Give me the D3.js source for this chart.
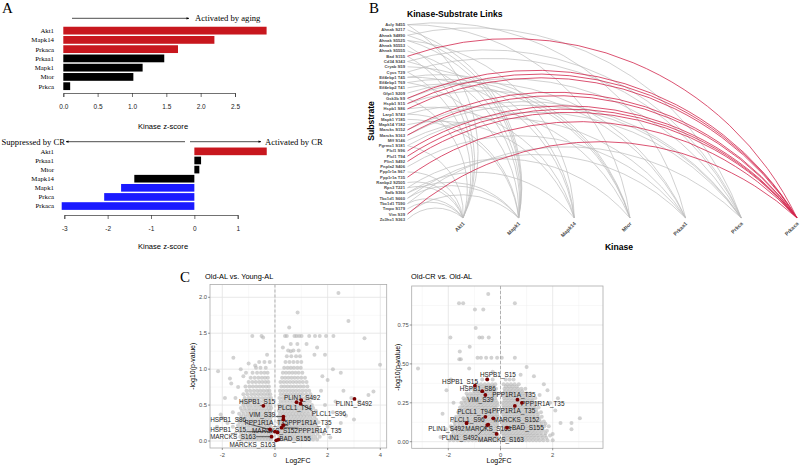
<!DOCTYPE html>
<html><head><meta charset="utf-8">
<script src="https://cdn.jsdelivr.net/npm/d3@7"></script>
<style>body{margin:0;background:#fff}svg{display:block}</style>
</head><body>
<svg id="c" width="800" height="465"></svg>
<script>
// ---------------- DATA ----------------
// Panel A (top): Old-AL vs Young-AL kinase z-scores
const agingKinases = ["Akt1","Mapk14","Prkaca","Prkaa1","Mapk1","Mtor","Prkca"];
const agingZ = [2.96,2.20,1.67,1.47,1.155,1.02,0.10];
const agingState = ["up","up","up","ns","ns","ns","ns"];
const agingTicks = [0,0.5,1,1.5,2,2.5];
// Panel A (bottom): Old-CR vs Old-AL kinase z-scores
const crKinases = ["Akt1","Prkaa1","Mtor","Mapk14","Mapk1","Prkca","Prkaca"];
const crZ = [1.67,0.155,0.115,-1.385,-1.69,-2.08,-3.06];
const crState = ["up","ns","ns","ns","down","down","down"];
const crTicks = [-3,-2,-1,0,1];

// Panel B: kinase-substrate links
const kinases = ["Akt1","Mapk1","Mapk14","Mtor","Prkaa1","Prkca","Prkaca"];
const substrates = ["Acly S455","Ahnak S217","Ahnak S4890","Ahnak S5525","Ahnak S5553","Ahnak S5555","Bad S155","Cd34 S343","Cryab S59","Cycs T29","Eif4ebp1 T45","Eif4ebp1 T69","Eif4ebp2 T41","Gfpt1 S209","Gsk3b S9","Hspb1 S15","Hspb1 S86","Larp1 S743","Mapk1 Y185","Mapk14 Y182","Marcks S152","Marcks S163","Mff S146","Pgrmc1 S181","Plcl1 S96","Plcl1 T94","Plin1 S492","Pnpla2 S406","Ppp1r1a S67","Ppp1r1a T35","Ranbp2 S2505","Rps3 T221","Safb S366","Tbc1d1 S660","Tbc1d1 T590","Tmpo S179","Vim S39","Zc3hc1 S363"];
const linksAkt1 = ["Acly S455","Ahnak S5553","Bad S155","Cycs T29","Gsk3b S9","Pgrmc1 S181","Ppp1r1a S67","Ranbp2 S2505","Rps3 T221","Tbc1d1 T590","Zc3hc1 S363","Tmpo S179"];
const linksMapk1 = ["Ahnak S217","Ahnak S4890","Ahnak S5525","Ahnak S5555","Cd34 S343","Eif4ebp1 T69","Larp1 S743","Mapk1 Y185","Safb S366","Tbc1d1 S660","Vim S39"];
const linksMapk14 = ["Cryab S59","Hspb1 S86","Mapk14 Y182","Eif4ebp1 T45","Ahnak S5525","Safb S366"];
const linksMtor = ["Eif4ebp1 T45","Eif4ebp1 T69","Eif4ebp2 T41","Larp1 S743","Acly S455","Rps3 T221"];
const linksPrkaa1 = ["Acly S455","Gfpt1 S209","Mff S146","Tbc1d1 S660","Pnpla2 S406","Hspb1 S15"];
const linksPrkca = ["Marcks S152","Marcks S163","Cd34 S343","Pgrmc1 S181","Cycs T29","Ahnak S4890","Tbc1d1 T590","Gsk3b S9"];
const linksPrkaca = ["Bad S155","Gsk3b S9","Hspb1 S15","Hspb1 S86","Marcks S152","Marcks S163","Plcl1 S96","Plcl1 T94","Plin1 S492","Ppp1r1a T35","Vim S39"];

// Panel C left: Old-AL vs Young-AL volcano (Log2FC, -log10 p)
const volcLScatter = [[2.41,2.06],[0.86,1.79],[2.79,1.67],[0.54,1.58],[-0.86,1.46],[-0.51,1.46],[-0.45,1.44],[0.38,1.46],[0.45,1.46],[0.74,1.46],[0.82,1.46],[0.92,1.46],[1.01,1.46],[1.30,1.46],[1.52,1.46],[1.70,1.46],[1.94,1.46],[2.22,1.46],[3.40,1.43],[3.99,1.06],[-1.58,1.16],[-2.16,0.97],[-1.71,0.87],[-1.66,0.80],[-2.06,0.37],[-2.0,0.32],[3.74,0.69],[3.55,0.64],[-1.3,1.0],[-1.0,1.08],[-0.75,1.05],[-0.3,1.2],[-1.2,0.9],[1.9,1.2],[2.2,1.0],[2.5,0.95],[2.0,0.85],[1.8,0.9],[2.6,0.7],[2.9,0.6],[3.2,0.55],[2.3,0.55],[1.5,1.2],[1.6,1.3],[1.2,1.35],[0.3,1.3],[0.6,1.25],[-0.2,1.1],[-1.9,0.6],[-1.5,0.6],[-1.6,0.4],[-2.2,0.2],[-1.8,0.25],[2.7,0.35],[3.0,0.3],[2.5,0.25],[2.0,0.2],[1.9,0.5],[2.2,0.4],[-1.4,0.75],[-1.1,0.95],[1.75,0.7],[1.85,0.1],[2.1,0.05],[-1.5,0.1],[-1.6,0.2]];
const volcLRows = [
 [0.02,[-1.25,-1.1,-0.98,-0.85,-0.72,-0.6,-0.48,-0.36,-0.25,-0.15,0.12,0.24,0.36,0.48,0.6,0.72,0.84,0.96,1.08,1.2,1.32,1.45,1.6]],
 [0.06,[-1.32,-1.18,-1.04,-0.9,-0.78,-0.66,-0.53,-0.42,-0.3,-0.19,-0.12,0.17,0.29,0.41,0.53,0.65,0.77,0.89,1.01,1.13,1.26,1.39,1.53,1.7]],
 [0.10,[-1.28,-1.12,-0.95,-0.82,-0.7,-0.57,-0.45,-0.33,-0.22,-0.14,0.11,0.23,0.35,0.47,0.59,0.71,0.83,0.95,1.07,1.19,1.32,1.46,1.62]],
 [0.14,[-1.35,-1.2,-1.06,-0.92,-0.78,-0.63,-0.5,-0.38,-0.27,-0.17,0.16,0.28,0.4,0.52,0.64,0.76,0.88,1.0,1.12,1.25,1.38,1.52,1.68]],
 [0.18,[-1.3,-1.15,-1.0,-0.86,-0.73,-0.6,-0.47,-0.35,-0.24,-0.13,0.12,0.24,0.36,0.48,0.6,0.72,0.84,0.96,1.08,1.2,1.33,1.47,1.6]],
 [0.22,[-1.4,-1.24,-1.08,-0.94,-0.8,-0.67,-0.54,-0.41,-0.3,-0.19,0.17,0.29,0.41,0.53,0.65,0.77,0.89,1.01,1.13,1.26,1.4,1.55]],
 [0.26,[-1.33,-1.17,-1.02,-0.88,-0.75,-0.62,-0.49,-0.37,-0.25,-0.15,0.13,0.25,0.37,0.49,0.61,0.73,0.85,0.97,1.09,1.21,1.34,1.48,1.65]],
 [0.30,[-1.38,-1.22,-1.07,-0.93,-0.8,-0.66,-0.53,-0.41,-0.29,-0.18,0.18,0.3,0.42,0.54,0.66,0.78,0.9,1.02,1.14,1.27,1.41,1.56]],
 [0.34,[-1.28,-1.12,-0.98,-0.85,-0.71,-0.58,-0.45,-0.33,-0.21,-0.13,0.14,0.26,0.38,0.5,0.62,0.74,0.86,0.98,1.1,1.22,1.35,1.5]],
 [0.38,[-1.36,-1.2,-1.05,-0.9,-0.77,-0.63,-0.5,-0.37,-0.26,-0.16,0.19,0.31,0.43,0.55,0.67,0.79,0.91,1.03,1.15,1.28,1.43]],
 [0.42,[-1.25,-1.1,-0.96,-0.82,-0.69,-0.55,-0.42,-0.3,-0.19,0.15,0.27,0.39,0.51,0.63,0.75,0.87,0.99,1.11,1.24,1.38,1.55]],
 [0.46,[-1.3,-1.15,-1.0,-0.87,-0.73,-0.6,-0.47,-0.34,-0.23,-0.14,0.2,0.32,0.44,0.56,0.68,0.8,0.92,1.04,1.16,1.3,1.45]],
 [0.50,[-1.2,-1.05,-0.92,-0.78,-0.65,-0.52,-0.39,-0.27,-0.17,0.16,0.28,0.4,0.52,0.64,0.76,0.88,1.0,1.12,1.25,1.4]],
 [0.55,[-1.25,-1.1,-0.96,-0.83,-0.7,-0.57,-0.44,-0.31,-0.2,0.21,0.33,0.45,0.57,0.69,0.81,0.93,1.05,1.18,1.32]],
 [0.60,[-1.15,-1.0,-0.87,-0.74,-0.61,-0.48,-0.36,-0.24,-0.15,0.17,0.29,0.41,0.53,0.65,0.77,0.89,1.01,1.14,1.28,1.45]],
 [0.65,[-1.2,-1.05,-0.9,-0.77,-0.64,-0.52,-0.4,-0.28,-0.18,0.22,0.34,0.46,0.58,0.7,0.82,0.94,1.06,1.2,1.35]],
 [0.70,[-1.08,-0.94,-0.8,-0.67,-0.55,-0.43,-0.31,-0.21,0.19,0.31,0.43,0.55,0.67,0.79,0.91,1.04,1.17,1.3]],
 [0.76,[-1.12,-0.97,-0.84,-0.71,-0.58,-0.46,-0.34,-0.23,0.24,0.36,0.48,0.6,0.72,0.84,0.96,1.09,1.23]],
 [0.82,[-1.0,-0.86,-0.73,-0.6,-0.48,-0.36,-0.25,0.21,0.33,0.45,0.57,0.69,0.81,0.93,1.06,1.2]],
 [0.88,[-0.92,-0.77,-0.63,-0.5,-0.38,-0.27,0.27,0.39,0.51,0.63,0.75,0.87,1.0,1.14]],
 [0.95,[-0.85,-0.68,-0.53,-0.4,-0.28,0.3,0.42,0.54,0.66,0.78,0.9,1.04]],
 [1.02,[-0.72,-0.55,-0.35,0.35,0.48,0.6,0.72,0.85,0.98]],
 [1.10,[-0.6,-0.4,0.4,0.55,0.7,0.85,1.0]],
 [1.18,[0.45,0.62,0.8,0.95]],
 [1.26,[0.5,0.7,0.9]],
 [1.35,[0.6,0.85]]
];
const volcLHits = [
 ["PLIN1_S492",3.02,0.585,3.0,0.52],
 ["PLIN1_S492",1.0,0.57,1.03,0.60],
 ["HSPB1_S15",-0.44,0.49,-0.68,0.55],
 ["PLCL1_T94",0.82,0.54,0.75,0.46],
 ["PLCL1_S96",0.97,0.52,2.05,0.385],
 ["VIM_S39",0.32,0.34,-0.49,0.37],
 ["HSPB1_S86",-0.19,0.16,-1.78,0.29],
 ["PPP1R1A_T35",0.32,0.30,-0.33,0.26],
 ["PPP1R1A_T35",0.32,0.22,1.33,0.26],
 ["PPP1R1A_T35",0.25,0.185,1.71,0.14],
 ["HSPB1_S15",0.0,0.13,-1.78,0.16],
 ["MARCKS_S152",0.1,0.12,0.0,0.14],
 ["MARCKS_S163",-0.13,0.06,-1.6,0.06],
 ["BAD_S155",0.13,0.02,0.76,0.03],
 ["MARCKS_S163",0.05,0.01,-0.86,-0.056]
];

// Panel C right: Old-CR vs Old-AL volcano
const volcRScatter = [[-0.47,0.95],[-1.59,0.89],[-1.43,0.89],[0.55,0.89],[-0.98,0.85],[-0.66,0.85],[-0.95,0.73],[-1.92,0.67],[-0.81,0.67],[-0.7,0.67],[-0.45,0.67],[-1.18,0.61],[-1.56,0.58],[-1.58,0.53],[-1.52,0.53],[-0.88,0.54],[-0.75,0.54],[-0.55,0.54],[-0.35,0.54],[-0.13,0.54],[0.05,0.54],[0.55,0.54],[-3.16,0.47],[1.0,0.48],[0.77,0.43],[1.28,0.42],[1.66,0.37],[3.04,0.15],[2.72,0.12],[2.72,0.08],[-2.22,0.18],[-2.07,0.33],[-1.2,0.47],[-0.3,0.45],[1.5,0.3],[1.9,0.25],[2.1,0.2],[2.3,0.12],[2.0,0.05],[-2.1,0.08],[-2.3,0.03],[-1.8,0.25],[1.8,0.33],[2.2,0.28],[-1.9,0.4]];
const volcRRows = [
 [0.01,[-1.95,-1.8,-1.65,-1.5,-1.36,-1.22,-1.08,-0.94,-0.8,-0.67,-0.54,-0.41,-0.28,-0.15,0.08,0.2,0.33,0.46,0.59,0.72,0.85,0.98,1.11,1.24,1.37,1.5,1.64,1.8,2.0]],
 [0.025,[-1.85,-1.7,-1.55,-1.41,-1.27,-1.13,-0.99,-0.85,-0.72,-0.58,-0.45,-0.32,-0.19,0.14,0.27,0.4,0.53,0.66,0.79,0.92,1.05,1.18,1.31,1.45,1.6,1.75]],
 [0.04,[-1.88,-1.72,-1.57,-1.43,-1.29,-1.15,-1.01,-0.87,-0.74,-0.6,-0.47,-0.34,-0.21,-0.1,0.12,0.25,0.38,0.51,0.64,0.77,0.9,1.03,1.16,1.29,1.42,1.56,1.7,1.9]],
 [0.055,[-1.8,-1.64,-1.5,-1.36,-1.22,-1.08,-0.94,-0.81,-0.67,-0.54,-0.41,-0.28,-0.15,0.09,0.22,0.35,0.48,0.61,0.74,0.87,1.0,1.13,1.26,1.4,1.55,1.72]],
 [0.07,[-1.83,-1.68,-1.53,-1.39,-1.25,-1.11,-0.97,-0.84,-0.7,-0.57,-0.44,-0.31,-0.18,0.06,0.18,0.31,0.44,0.57,0.7,0.83,0.96,1.09,1.22,1.35,1.49,1.63,1.78]],
 [0.085,[-1.86,-1.7,-1.56,-1.42,-1.28,-1.14,-1.0,-0.87,-0.73,-0.6,-0.47,-0.34,-0.2,0.13,0.26,0.39,0.52,0.65,0.78,0.91,1.04,1.17,1.3,1.44,1.6]],
 [0.10,[-1.9,-1.75,-1.6,-1.46,-1.32,-1.18,-1.04,-0.9,-0.77,-0.64,-0.51,-0.38,-0.25,-0.12,0.1,0.23,0.36,0.49,0.62,0.75,0.88,1.01,1.14,1.27,1.4,1.54,1.68,1.85]],
 [0.115,[-1.74,-1.58,-1.44,-1.3,-1.16,-1.02,-0.89,-0.75,-0.62,-0.49,-0.36,-0.23,-0.11,0.09,0.22,0.35,0.48,0.61,0.74,0.87,1.0,1.13,1.26,1.4,1.56,1.72]],
 [0.13,[-1.78,-1.62,-1.48,-1.34,-1.2,-1.06,-0.92,-0.79,-0.66,-0.53,-0.4,-0.27,-0.15,0.07,0.2,0.33,0.46,0.59,0.72,0.85,0.98,1.11,1.24,1.37,1.51,1.66]],
 [0.145,[-1.66,-1.51,-1.37,-1.23,-1.09,-0.95,-0.82,-0.69,-0.56,-0.43,-0.3,-0.17,0.14,0.27,0.4,0.53,0.66,0.79,0.92,1.05,1.18,1.32,1.48]],
 [0.16,[-1.7,-1.55,-1.41,-1.27,-1.13,-0.99,-0.86,-0.72,-0.59,-0.46,-0.33,-0.2,-0.1,0.12,0.25,0.38,0.51,0.64,0.77,0.9,1.03,1.16,1.29,1.43,1.58]],
 [0.175,[-1.58,-1.44,-1.3,-1.16,-1.02,-0.89,-0.75,-0.62,-0.49,-0.36,-0.23,-0.12,0.1,0.23,0.36,0.49,0.62,0.75,0.88,1.01,1.14,1.28,1.43]],
 [0.19,[-1.62,-1.47,-1.33,-1.19,-1.05,-0.92,-0.78,-0.65,-0.52,-0.39,-0.26,-0.14,0.08,0.21,0.34,0.47,0.6,0.73,0.86,0.99,1.12,1.25,1.39,1.55]],
 [0.205,[-1.52,-1.37,-1.23,-1.09,-0.95,-0.82,-0.68,-0.55,-0.42,-0.29,-0.16,0.15,0.28,0.41,0.54,0.67,0.8,0.93,1.06,1.2,1.36]],
 [0.22,[-1.55,-1.4,-1.26,-1.12,-0.98,-0.85,-0.71,-0.58,-0.45,-0.32,-0.19,0.13,0.26,0.39,0.52,0.65,0.78,0.91,1.04,1.17,1.31,1.46]],
 [0.235,[-1.45,-1.3,-1.16,-1.02,-0.88,-0.75,-0.62,-0.49,-0.36,-0.23,-0.11,0.11,0.24,0.37,0.5,0.63,0.76,0.89,1.02,1.16,1.3]],
 [0.25,[-1.5,-1.35,-1.2,-1.06,-0.92,-0.79,-0.65,-0.52,-0.39,-0.26,-0.13,0.09,0.22,0.35,0.48,0.61,0.74,0.87,1.0,1.13,1.27,1.4]],
 [0.265,[-1.38,-1.24,-1.1,-0.96,-0.83,-0.7,-0.57,-0.44,-0.31,-0.18,0.16,0.29,0.42,0.55,0.68,0.81,0.94,1.08,1.22]],
 [0.28,[-1.42,-1.28,-1.14,-1.0,-0.86,-0.73,-0.6,-0.47,-0.34,-0.21,0.14,0.27,0.4,0.53,0.66,0.79,0.92,1.05,1.19,1.33]],
 [0.295,[-1.25,-1.1,-0.96,-0.83,-0.7,-0.57,-0.44,-0.31,-0.19,0.12,0.25,0.38,0.51,0.64,0.77,0.9,1.04]],
 [0.31,[-1.3,-1.16,-1.02,-0.88,-0.75,-0.62,-0.49,-0.36,-0.23,-0.12,0.1,0.23,0.36,0.49,0.62,0.75,0.88,1.01,1.15]],
 [0.325,[-1.0,-0.87,-0.74,-0.61,-0.48,-0.35,-0.23,0.17,0.3,0.43,0.56,0.69,0.83]],
 [0.34,[-1.1,-0.95,-0.81,-0.68,-0.55,-0.42,-0.29,-0.17,0.15,0.28,0.41,0.54,0.67,0.8,0.95]],
 [0.355,[-0.82,-0.68,-0.54,-0.4,-0.27,0.2,0.33,0.47,0.62]],
 [0.37,[-0.9,-0.75,-0.6,-0.46,-0.32,-0.2,0.12,0.26,0.4,0.54,0.7]],
 [0.40,[-0.7,-0.5,-0.3,0.2,0.35,0.5]]
];
const volcRHits = [
 ["HSPB1_S15",-0.51,0.40,-0.1,0.43],
 ["HSPB1_S15",-0.98,0.36,-1.55,0.385],
 ["HSPB1_S86",-0.7,0.325,-0.87,0.34],
 ["VIM_S39",-0.58,0.30,-0.77,0.27],
 ["PPP1R1A_T35",0.65,0.27,0.51,0.30],
 ["PPP1R1A_T35",0.82,0.25,1.62,0.246],
 ["PPP1R1A_T35",0.55,0.23,0.5,0.197],
 ["PLCL1_T94",-0.58,0.16,-1.0,0.19],
 ["MARCKS_S152",-0.28,0.15,0.61,0.144],
 ["PLCL1_S96",-1.3,0.12,-1.27,0.14],
 ["BAD_S155",0.25,0.09,1.05,0.092],
 ["PLIN1_S492",-1.3,0.12,-2.07,0.086],
 ["MARCKS_S163",-0.47,0.11,-0.47,0.08],
 ["PLIN1_S492",-0.51,0.107,-1.56,0.028],
 ["MARCKS_S163",-0.15,0.05,0.02,0.015]
];

// ---------------- DRAW ----------------
const SANS = "'Liberation Sans', Arial, sans-serif";
const SERIF = "'Liberation Serif', 'Times New Roman', serif";
const RED = "#c8171e", BLUE = "#1a1aff", BLACK = "#000";
const stateCol = {up: RED, ns: BLACK, down: BLUE};
const svg = d3.select("#c");
svg.append("rect").attr("width",800).attr("height",465).attr("fill","#fff");

const defs = svg.append("defs");
defs.append("marker").attr("id","arr").attr("viewBox","0 0 10 10").attr("refX",9).attr("refY",5)
  .attr("markerWidth",4).attr("markerHeight",4).attr("orient","auto-start-reverse")
  .append("path").attr("d","M0,1L10,5L0,9Z").attr("fill","#000");

function letter(t,x,y){ svg.append("text").attr("x",x).attr("y",y).text(t)
  .attr("font-family",SERIF).attr("font-size",15).attr("fill","#000"); }
letter("A",2,13); letter("B",369,13); letter("C",180,282);

function barPanel(cats, vals, states, ticks, domain, xr, yr, axisY, titleY, fmt){
  const x = d3.scaleLinear().domain(domain).range(xr);
  const y = d3.scaleBand().domain(cats).range(yr).paddingInner(0.16).paddingOuter(0.08);
  const g = svg.append("g");
  g.selectAll("rect").data(cats).join("rect")
    .attr("x",(d,i)=>Math.min(x(0),x(vals[i])))
    .attr("width",(d,i)=>Math.abs(x(vals[i])-x(0)))
    .attr("y",d=>y(d)).attr("height",y.bandwidth())
    .attr("fill",(d,i)=>stateCol[states[i]]);
  g.selectAll("text.lab").data(cats).join("text").attr("class","lab")
    .attr("x",54).attr("y",d=>y(d)+y.bandwidth()/2).attr("dy","0.35em")
    .attr("text-anchor","end").attr("font-family",SERIF).attr("font-size",6.8).text(d=>d);
  const ax = g.append("g").attr("transform",`translate(0,${axisY})`)
    .call(d3.axisBottom(x).tickValues(ticks).tickSize(4).tickPadding(7).tickFormat(fmt));
  ax.selectAll("path,line").attr("stroke","#333").attr("stroke-width",0.7);
  ax.selectAll("text").attr("font-family",SANS).attr("font-size",6.5).attr("fill","#222");
  g.append("text").attr("x",163).attr("y",titleY).attr("dy","0.35em").attr("text-anchor","middle")
    .attr("font-family",SANS).attr("font-size",7.6).text("Kinase z-score");
  return x;
}
barPanel(agingKinases, agingZ, agingState, agingTicks, [0,2.5],[63.3,235],[26,90.8],93,126,d3.format(".1f"));
barPanel(crKinases, crZ, crState, crTicks, [-3,1],[64.3,237.7],[146.8,210.6],215,246.7,d=>String(d));

function arrowLine(x1,x2,y){ svg.append("line").attr("x1",x1).attr("x2",x2).attr("y1",y).attr("y2",y)
  .attr("stroke","#000").attr("stroke-width",0.7).attr("marker-end","url(#arr)"); }
function serifText(t,x,y,anchor){ svg.append("text").attr("x",x).attr("y",y).attr("dy","0.35em")
  .attr("text-anchor",anchor).attr("font-family",SERIF).attr("font-size",8.6).text(t); }
arrowLine(72,189,18.3); serifText("Activated by aging",195,18.3,"start");
arrowLine(185,66,141.7); serifText("Suppressed by CR",65,141.7,"end");
arrowLine(190,261,141.7); serifText("Activated by CR",265,141.7,"start");

// ---- Panel B ----
const yS = d3.scalePoint().domain(substrates).range([24.7,219.3]);
const xK = d3.scalePoint().domain(kinases).range([463,797]);
const kY = 218, sX = 407.5;
const gB = svg.append("g");
function arcPath(x1,y1,x2,y2){ const c=Math.hypot(x2-x1,y2-y1); const r=0.75*c;
  return `M${x1},${y1}A${r},${r} 0 0 1 ${x2},${y2}`; }
const grayLinks = [];
[["Akt1",linksAkt1],["Mapk1",linksMapk1],["Mapk14",linksMapk14],["Mtor",linksMtor],["Prkaa1",linksPrkaa1],["Prkca",linksPrkca]]
 .forEach(([k,arr])=>arr.forEach(s=>grayLinks.push([s,k])));
const redLinks = linksPrkaca.map(s=>[s,"Prkaca"]);
gB.selectAll("path.g").data(grayLinks).join("path").attr("class","g")
  .attr("d",d=>arcPath(sX,yS(d[0]),xK(d[1]),kY)).attr("fill","none").attr("stroke","#bdbdbd").attr("stroke-width",0.7);
gB.selectAll("path.r").data(redLinks).join("path").attr("class","r")
  .attr("d",d=>arcPath(sX,yS(d[0]),xK(d[1]),kY)).attr("fill","none").attr("stroke","#d2264d").attr("stroke-width",0.8);
gB.selectAll("text.s").data(substrates).join("text").attr("class","s")
  .attr("x",405).attr("y",d=>yS(d)).attr("dy","0.35em").attr("text-anchor","end")
  .attr("font-family",SANS).attr("font-weight","bold").attr("font-size",4.2).attr("fill","#4a4a4a").text(d=>d);
gB.selectAll("text.k").data(kinases).join("text").attr("class","k")
  .attr("transform",d=>`translate(${xK(d)+2},${kY+6}) rotate(-45)`).attr("text-anchor","end")
  .attr("font-family",SANS).attr("font-weight","bold").attr("font-size",5.2).attr("fill","#4a4a4a").text(d=>d);
gB.append("text").attr("x",407).attr("y",14).attr("dy","0.35em").attr("font-family",SANS)
  .attr("font-weight","bold").attr("font-size",8.6).text("Kinase-Substrate Links");
gB.append("text").attr("transform","translate(371,121) rotate(-90)").attr("text-anchor","middle").attr("dy","0.35em")
  .attr("font-family",SANS).attr("font-weight","bold").attr("font-size",8.6).text("Substrate");
gB.append("text").attr("x",619).attr("y",246.7).attr("dy","0.35em").attr("text-anchor","middle")
  .attr("font-family",SANS).attr("font-weight","bold").attr("font-size",8.6).text("Kinase");

// ---- Panel C ----
function volcano(o){
  const x = d3.scaleLinear().domain(o.xd).range(o.xr);
  const y = d3.scaleLinear().domain(o.yd).range(o.yr);
  const [L,R,T,B] = o.box;
  const g = svg.append("g");
  const clip = "clip"+o.id;
  defs.append("clipPath").attr("id",clip).append("rect").attr("x",L).attr("y",T).attr("width",R-L).attr("height",B-T);
  const gg = g.append("g").attr("clip-path",`url(#${clip})`);
  o.xminor.forEach(v=>gg.append("line").attr("x1",x(v)).attr("x2",x(v)).attr("y1",T).attr("y2",B).attr("stroke","#f0f0f0").attr("stroke-width",0.5));
  o.yminor.forEach(v=>gg.append("line").attr("y1",y(v)).attr("y2",y(v)).attr("x1",L).attr("x2",R).attr("stroke","#f0f0f0").attr("stroke-width",0.5));
  o.xt.forEach(v=>gg.append("line").attr("x1",x(v)).attr("x2",x(v)).attr("y1",T).attr("y2",B).attr("stroke","#e3e3e3").attr("stroke-width",0.8));
  o.yt.forEach(v=>gg.append("line").attr("y1",y(v)).attr("y2",y(v)).attr("x1",L).attr("x2",R).attr("stroke","#e3e3e3").attr("stroke-width",0.8));
  const pts = o.scatter.slice();
  o.rows.forEach(([yy,xs])=>xs.forEach(xx=>pts.push([xx,yy])));
  gg.selectAll("circle.p").data(pts).join("circle").attr("class","p")
    .attr("cx",d=>x(d[0])).attr("cy",d=>y(d[1])).attr("r",2.0).attr("fill","#b4b4b4").attr("fill-opacity",0.6);
  gg.append("line").attr("x1",x(0)).attr("x2",x(0)).attr("y1",T).attr("y2",B)
    .attr("stroke","#9a9a9a").attr("stroke-width",0.7).attr("stroke-dasharray","3,2");
  // labels
  const lg = g.append("g");
  o.hits.forEach(h=>{
    const t = lg.append("text").attr("x",x(h[3])).attr("y",y(h[4])).attr("dy","0.35em").attr("text-anchor","middle")
      .attr("font-family",SANS).attr("font-size",6.4).attr("fill","#1a1a1a").text(h[0]);
    const bb = t.node().getBBox();
    const px = x(h[1]), py = y(h[2]);
    const cx = Math.max(bb.x, Math.min(px, bb.x+bb.width));
    const cy = Math.max(bb.y+1, Math.min(py, bb.y+bb.height-1));
    if (Math.hypot(cx-px, cy-py) > 3) {
      lg.insert("line",":first-child").attr("x1",px).attr("y1",py).attr("x2",cx).attr("y2",cy).attr("stroke","#000").attr("stroke-width",0.6);
    }
  });
  g.selectAll("circle.h").data(o.hits).join("circle").attr("class","h")
    .attr("cx",d=>x(d[1])).attr("cy",d=>y(d[2])).attr("r",1.9).attr("fill","#7a0000");
  g.append("rect").attr("x",L).attr("y",T).attr("width",R-L).attr("height",B-T).attr("fill","none").attr("stroke","#ababab").attr("stroke-width",0.8);
  // ticks
  o.xt.forEach(v=>{
    g.append("line").attr("x1",x(v)).attr("x2",x(v)).attr("y1",B).attr("y2",B+2).attr("stroke","#333").attr("stroke-width",0.5);
    g.append("text").attr("x",x(v)).attr("y",B+6.5).attr("dy","0.35em").attr("text-anchor","middle")
      .attr("font-family",SANS).attr("font-size",5.8).attr("fill","#4d4d4d").text(String(v));
  });
  o.yt.forEach(v=>{
    g.append("line").attr("x1",L-2).attr("x2",L).attr("y1",y(v)).attr("y2",y(v)).attr("stroke","#333").attr("stroke-width",0.5);
    g.append("text").attr("x",L-3).attr("y",y(v)).attr("dy","0.35em").attr("text-anchor","end")
      .attr("font-family",SANS).attr("font-size",5.8).attr("fill","#4d4d4d").text(o.yfmt(v));
  });
  g.append("text").attr("x",o.xlabX).attr("y",461).attr("dy","0.35em").attr("text-anchor","middle")
    .attr("font-family",SANS).attr("font-size",7).text("Log2FC");
  g.append("text").attr("transform",`translate(${o.ylabX},${(T+B)/2}) rotate(-90)`).attr("dy","0.35em").attr("text-anchor","middle")
    .attr("font-family",SANS).attr("font-size",7).text("-log10(p-value)");
  g.append("text").attr("x",o.titleX).attr("y",279).attr("font-family",SANS).attr("font-size",7.4).text(o.title);
}
volcano({id:"L", title:"Old-AL vs. Young-AL", titleX:205, xd:[-2,4], xr:[222.3,380.3], yd:[0,2], yr:[441,297.3],
  box:[210,386.7,284.5,448], xt:[-2,0,2,4], xminor:[-1,1,3], yt:[0,0.5,1,1.5,2], yminor:[0.25,0.75,1.25,1.75],
  yfmt:d3.format(".1f"), scatter:volcLScatter, rows:volcLRows, hits:volcLHits, xlabX:298, ylabX:193});
volcano({id:"R", title:"Old-CR vs. Old-AL", titleX:411, xd:[-2,2], xr:[448.3,552.7], yd:[0,0.75], yr:[441.7,325],
  box:[411.7,603,286,448.3], xt:[-2,0,2], xminor:[-3,-1,1,3], yt:[0,0.25,0.5,0.75], yminor:[0.125,0.375,0.625,0.875],
  yfmt:d3.format(".2f"), scatter:volcRScatter, rows:volcRRows, hits:volcRHits, xlabX:499, ylabX:398});
</script>
</body></html>
